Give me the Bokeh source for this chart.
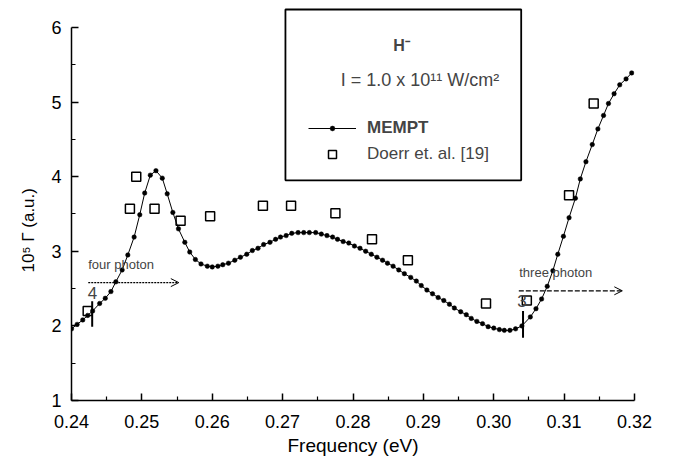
import math
from bokeh.plotting import figure
from bokeh.models import (Label, Arrow, OpenHead, BoxAnnotation, Legend, LegendItem,
                          FixedTicker, Range1d, Title, LinearAxis)
from bokeh.embed import file_html
from bokeh.resources import INLINE

# ---------------- data ----------------
mempt_x = [0.2400, 0.2408, 0.2416, 0.2423, 0.2430, 0.2440, 0.2448, 0.2456, 0.2463, 0.2472,
           0.2480, 0.2489, 0.2497, 0.2504, 0.2512, 0.2520, 0.2529, 0.2536, 0.2544, 0.2552,
           0.2561, 0.2568, 0.2576, 0.2584, 0.2593, 0.2600, 0.2608, 0.2615, 0.2623, 0.2632,
           0.2640, 0.2649, 0.2657, 0.2665, 0.2673, 0.2682, 0.2690, 0.2697, 0.2705, 0.2713,
           0.2722, 0.2730, 0.2738, 0.2747, 0.2755, 0.2763, 0.2771, 0.2778, 0.2786, 0.2794,
           0.2802, 0.2810, 0.2818, 0.2826, 0.2834, 0.2842, 0.2849, 0.2857, 0.2865, 0.2873,
           0.2882, 0.2890, 0.2897, 0.2905, 0.2913, 0.2921, 0.2929, 0.2937, 0.2944, 0.2953,
           0.2961, 0.2968, 0.2976, 0.2984, 0.2992, 0.3000, 0.3008, 0.3015, 0.3023, 0.3031,
           0.3040, 0.3052, 0.3060, 0.3068, 0.3076, 0.3084, 0.3091, 0.3099, 0.3107, 0.3116,
           0.3123, 0.3131, 0.3140, 0.3148, 0.3156, 0.3163, 0.3171, 0.3179, 0.3188, 0.3196]
mempt_y = [1.96, 2.02, 2.08, 2.14, 2.20, 2.30, 2.37, 2.46, 2.59, 2.75,
           2.95, 3.19, 3.49, 3.78, 4.02, 4.08, 3.98, 3.77, 3.52, 3.30,
           3.12, 2.99, 2.89, 2.83, 2.80, 2.79, 2.80, 2.82, 2.84, 2.88,
           2.92, 2.96, 3.01, 3.04, 3.09, 3.12, 3.16, 3.19, 3.21, 3.24,
           3.25, 3.25, 3.25, 3.25, 3.23, 3.21, 3.19, 3.16, 3.13, 3.11,
           3.07, 3.04, 3.00, 2.96, 2.92, 2.88, 2.84, 2.80, 2.75, 2.70,
           2.65, 2.60, 2.54, 2.48, 2.43, 2.38, 2.34, 2.29, 2.24, 2.19,
           2.15, 2.10, 2.06, 2.03, 1.99, 1.97, 1.95, 1.94, 1.94, 1.96,
           2.00, 2.12, 2.23, 2.36, 2.53, 2.74, 2.96, 3.20, 3.45, 3.71,
           3.97, 4.20, 4.43, 4.64, 4.82, 4.98, 5.11, 5.23, 5.31, 5.39]

doerr_x = [0.2423, 0.2483, 0.2492, 0.2518, 0.2555, 0.2597, 0.2672, 0.2712,
           0.2775, 0.2827, 0.2878, 0.2989, 0.3047, 0.3107, 0.3142]
doerr_y = [2.20, 3.57, 4.00, 3.57, 3.41, 3.47, 3.61, 3.61,
           3.51, 3.16, 2.88, 2.30, 2.34, 3.75, 4.98]

x_ticks = [0.24, 0.25, 0.26, 0.27, 0.28, 0.29, 0.30, 0.31, 0.32]
x_tick_labels = ["0.24", "0.25", "0.26", "0.27", "0.28", "0.29", "0.30", "0.31", "0.32"]
x_minor = [0.245, 0.255, 0.265, 0.275, 0.285, 0.295, 0.305, 0.315]
y_ticks = [1, 2, 3, 4, 5, 6]
y_minor = [1.5, 2.5, 3.5, 4.5, 5.5]

# threshold markers (photon-order labels)
thr_labels = ["4", "3"]
thr_x = [0.24294, 0.30416]

FONT = "Liberation Sans"

p = figure(width=676, height=459, x_range=Range1d(0.24, 0.32), y_range=Range1d(1, 6.28),
           output_backend="svg", toolbar_location=None,
           min_border_left=71, min_border_right=42, min_border_top=6, min_border_bottom=59)
p.outline_line_color = None
p.xgrid.visible = False
p.ygrid.visible = False
p.background_fill_color = "white"
p.border_fill_color = "white"

for ax in (p.xaxis[0], p.yaxis[0]):
    ax.axis_line_width = 1.5
    ax.major_tick_line_width = 1.5
    ax.minor_tick_line_width = 1.2
    ax.major_tick_in = 7
    ax.major_tick_out = 0
    ax.minor_tick_in = 4
    ax.minor_tick_out = 0
    ax.major_label_text_font = FONT
    ax.major_label_text_font_size = "18px"
    ax.major_label_text_color = "black"
    ax.axis_label_text_font = FONT
    ax.axis_label_text_font_style = "normal"
    ax.axis_label_text_color = "black"

p.xaxis.ticker = FixedTicker(ticks=x_ticks, minor_ticks=x_minor)
p.xaxis.major_label_overrides = {t: l for t, l in zip(x_ticks, x_tick_labels)}
p.xaxis.major_label_standoff = 14
p.xaxis.axis_label = "Frequency (eV)"
p.xaxis.axis_label_text_font_size = "19px"
p.xaxis.axis_label_standoff = 4

p.yaxis.ticker = FixedTicker(ticks=y_ticks, minor_ticks=y_minor)
p.yaxis.bounds = (1, 6)
p.yaxis.major_label_standoff = 10

# invisible spacer axis (pushes the y title outward)
spacer = LinearAxis(ticker=FixedTicker(ticks=[3.5]), major_tick_out=6, major_tick_in=0,
                    minor_tick_out=0, minor_tick_in=0, major_tick_line_color=None,
                    minor_tick_line_color=None, axis_line_color=None,
                    major_label_standoff=0, major_label_overrides={3.5: ""})
p.add_layout(spacer, "left")

# y-axis title
ytitle = Title(text="10⁵ Γ (a.u.)", align="left", offset=128,
               text_font=FONT, text_font_size="17px", text_font_style="normal",
               text_color="black")
p.add_layout(ytitle, "left")

# data
line_r = p.line(mempt_x, mempt_y, line_color="black", line_width=1)
dots_r = p.scatter(mempt_x, mempt_y, marker="circle", size=4.5, fill_color="black",
                   line_color="black", line_width=0.5)
sq_r = p.scatter(doerr_x, doerr_y, marker="square", size=9, fill_color=None,
                 line_color="black", line_width=1.5)

# threshold ticks
p.segment(x0=thr_x, y0=[1.99, 1.84], x1=thr_x, y1=[2.33, 2.20],
          line_color="black", line_width=2)
p.add_layout(Label(x=0.24298, y=2.44, text=thr_labels[0], text_align="center",
                   text_baseline="middle", text_font=FONT, text_font_size="17px"))
p.add_layout(Label(x=0.3040, y=2.34, text=thr_labels[1], text_align="center",
                   text_baseline="middle", text_font=FONT, text_font_size="17px"))

# photon arrows
p.add_layout(Arrow(x_start=0.24238, y_start=2.58, x_end=0.25525, y_end=2.58,
                   line_dash="2 1", line_width=1.2, line_color="black",
                   end=OpenHead(size=8, line_width=1, line_color="black")))
p.add_layout(Arrow(x_start=0.30356, y_start=2.47, x_end=0.31827, y_end=2.47,
                   line_dash="5 2", line_width=1.2, line_color="black",
                   end=OpenHead(size=8, line_width=1, line_color="black")))
p.add_layout(Label(x=0.24237, y=2.82, text="four photon", text_align="left",
                   text_baseline="middle", text_font=FONT, text_font_size="13px"))
p.add_layout(Label(x=0.30362, y=2.715, text="three photon", text_align="left",
                   text_baseline="middle", text_font=FONT, text_font_size="13px"))

# legend box
p.add_layout(BoxAnnotation(left=0.2704, right=0.3039, bottom=3.95, top=6.24,
                           fill_color="white", fill_alpha=1.0, line_color="black",
                           line_width=1.8, line_alpha=1.0, line_dash="solid"))
p.add_layout(Label(x=0.28689, y=5.759, text="H⁻", text_align="center",
                   text_baseline="middle", text_font=FONT, text_font_size="16px",
                   text_font_style="bold"))
p.add_layout(Label(x=0.28952, y=5.29, text="I = 1.0 x 10¹¹ W/cm²", text_align="center",
                   text_baseline="middle", text_font=FONT, text_font_size="18px"))

leg1 = Legend(items=[LegendItem(label="MEMPT", renderers=[line_r, dots_r])],
              location=(237, 262), padding=0, margin=0, spacing=0,
              glyph_width=48, glyph_height=12, label_height=20, label_standoff=11,
              border_line_color=None, background_fill_alpha=0,
              label_text_font=FONT, label_text_font_size="17px",
              label_text_font_style="bold")
leg2 = Legend(items=[LegendItem(label="Doerr et. al. [19]", renderers=[sq_r])],
              location=(237, 236), padding=0, margin=0, spacing=0,
              glyph_width=48, glyph_height=20, label_height=20, label_standoff=11,
              border_line_color=None, background_fill_alpha=0,
              label_text_font=FONT, label_text_font_size="17px")
p.add_layout(leg1)
p.add_layout(leg2)

open("out.html", "w").write(file_html(p, INLINE))
